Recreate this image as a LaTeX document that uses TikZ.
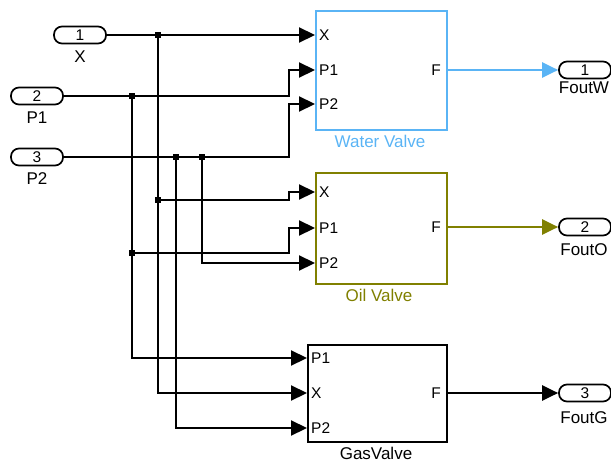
\documentclass[tikz,border=0pt]{standalone}
\usepackage{fontspec}
\setmainfont{Liberation Sans}
\usetikzlibrary{arrows.meta}
\tikzset{every node/.style={font=\fontsize{15.5}{18}\selectfont}}
\definecolor{watercol}{RGB}{90,180,245}
\definecolor{oilcol}{RGB}{128,128,0}
\colorlet{wirecol}{black}
\colorlet{gascol}{black}

\tikzset{
  ioport/.style={draw, line width=1.7pt, rounded corners=8pt,
    minimum width=52pt, minimum height=17pt, inner sep=0pt},
  valve/.style={draw, line width=2.2pt, anchor=north west, inner sep=0pt},
  blockname/.style={font=\fontsize{17}{19}\selectfont},
  wire/.style={line width=2.2pt, wirecol, -{Triangle[length=16pt, width=15pt]}},
  bus/.style={line width=2.2pt, wirecol},
  junction/.style={rectangle, fill=wirecol, inner sep=0pt, minimum size=6pt}
}

\begin{document}
\begin{tikzpicture}[x=1pt, y=-1pt]

  \useasboundingbox (0,0) rectangle (611,463);

  % Inports.
  \node[ioport] (inX)  at (80,35)  {1};
  \node[ioport] (inP1) at (37,96)  {2};
  \node[ioport] (inP2) at (37,157) {3};
  \node[blockname] at (80,57)  {X};
  \node[blockname] at (37,118) {P1};
  \node[blockname] at (37,179) {P2};

  % Valve blocks.
  \node[valve, draw=watercol, minimum width=131pt, minimum height=119pt]
    (water) at (315,10) {};
  \node[valve, draw=oilcol, minimum width=131pt, minimum height=111pt]
    (oil) at (315,172) {};
  \node[valve, draw=gascol, minimum width=139pt, minimum height=97pt]
    (gas) at (307,344) {};

  \node[blockname, text=watercol] at (380,141) {Water Valve};
  \node[blockname, text=oilcol]   at (379,295) {Oil Valve};
  \node[blockname, text=gascol, inner sep=1pt] at (376,453) {GasValve};

  % Port labels inside the blocks.
  \foreach \lab/\yy in {X/35, P1/70, P2/104}
    \node[anchor=west, inner sep=0pt] at (319,\yy) {\lab};
  \foreach \lab/\yy in {X/192, P1/228, P2/263}
    \node[anchor=west, inner sep=0pt] at (319,\yy) {\lab};
  \foreach \lab/\yy in {P1/358, X/393, P2/428}
    \node[anchor=west, inner sep=0pt] at (311,\yy) {\lab};
  \foreach \yy in {70, 227, 393}
    \node[anchor=east, inner sep=0pt] at (441,\yy) {F};

  % Outports.
  \node[ioport] (outW) at (585,70)  {1};
  \node[ioport] (outO) at (585,227) {2};
  \node[ioport] (outG) at (585,393) {3};
  \node[blockname] at (584,88)  {FoutW};
  \node[blockname] at (584,250) {FoutO};
  \node[blockname] at (584,418) {FoutG};

  % Input ports of the blocks.
  \coordinate (wX)  at (315,35);
  \coordinate (wP1) at (315,70);
  \coordinate (wP2) at (315,104);
  \coordinate (oX)  at (315,192);
  \coordinate (oP1) at (315,228);
  \coordinate (oP2) at (315,263);
  \coordinate (gP1) at (307,358);
  \coordinate (gX)  at (307,393);
  \coordinate (gP2) at (307,428);

  % Branch points.
  \node[junction] (jX1)  at (158,35)  {};
  \node[junction] (jX2)  at (158,200) {};
  \node[junction] (jP11) at (132,96)  {};
  \node[junction] (jP12) at (132,253) {};
  \node[junction] (jP21) at (176,157) {};
  \node[junction] (jP22) at (202,157) {};

  % X signal.
  \draw[wire] (inX.east) -- (wX);
  \draw[bus] (jX1.center) -- (jX2.center);
  \draw[wire] (jX2.center) -- (289,200) -- (289,192) -- (oX);
  \draw[wire] (jX2.center) |- (gX);

  % P1 signal.
  \draw[wire] (inP1.east) -- (289,96) -- (289,70) -- (wP1);
  \draw[bus] (jP11.center) -- (jP12.center);
  \draw[wire] (jP12.center) -- (289,253) -- (289,228) -- (oP1);
  \draw[wire] (jP12.center) |- (gP1);

  % P2 signal.
  \draw[wire] (inP2.east) -- (289,157) -- (289,104) -- (wP2);
  \draw[wire] (jP21.center) |- (gP2);
  \draw[wire] (jP22.center) |- (oP2);

  % Outputs.
  \draw[wire, watercol] (water.east |- outW) -- (outW.west);
  \draw[wire, oilcol]   (oil.east |- outO)   -- (outO.west);
  \draw[wire, gascol]   (gas.east |- outG)   -- (outG.west);

\end{tikzpicture}
\end{document}
